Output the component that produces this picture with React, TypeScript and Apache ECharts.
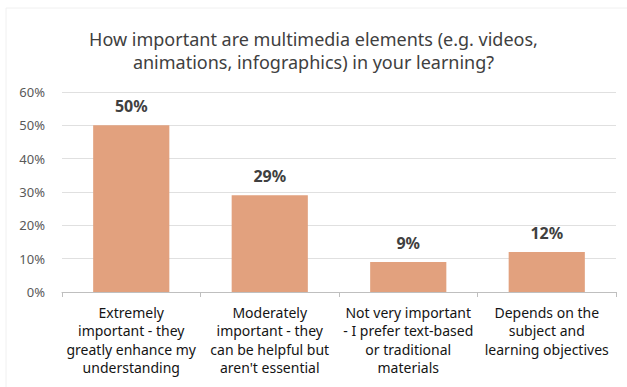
import React, { useEffect, useRef } from "react";
import * as echarts from "echarts";

const titleText = "How important are multimedia elements (e.g. videos,\nanimations, infographics) in your learning?";
const categories = [
  "Extremely\nimportant - they\ngreatly enhance my\nunderstanding",
  "Moderately\nimportant - they\ncan be helpful but\naren't essential",
  "Not very important\n- I prefer text-based\nor traditional\nmaterials",
  "Depends on the\nsubject and\nlearning objectives",
];
const values = [50, 29, 9, 12];
const yTicks = { min: 0, max: 60, interval: 10 };

const FONT = "'Noto Sans', sans-serif";

export default function App() {
  const ref = useRef<HTMLDivElement>(null);
  useEffect(() => {
    document.body.style.margin = "0";
    const chart = echarts.init(ref.current!, null, { renderer: "svg" });
    chart.setOption({
      animation: false,
      backgroundColor: "#ffffff",
      textStyle: { fontFamily: FONT },
      graphic: [
        {
          type: "rect",
          shape: { x: 6, y: 8, width: 640, height: 400 },
          style: { fill: "none", stroke: "#f0f0f0", lineWidth: 1 },
          silent: true,
        },
      ],
      title: {
        text: titleText,
        left: "center",
        top: 22,
        textStyle: {
          fontFamily: FONT,
          fontSize: 18,
          fontWeight: "normal",
          color: "#404040",
          lineHeight: 23,
        },
      },
      grid: { left: 62, right: 11, top: 92, bottom: 95 },
      xAxis: {
        type: "category",
        data: categories,
        axisLine: { lineStyle: { color: "#bfbfbf", width: 1 } },
        axisTick: { show: true, alignWithLabel: false, length: 5, lineStyle: { color: "#bfbfbf" } },
        axisLabel: {
          interval: 0,
          color: "#141414",
          fontFamily: FONT,
          fontSize: 14,
          lineHeight: 18.5,
          margin: 11,
        },
      },
      yAxis: {
        type: "value",
        min: yTicks.min,
        max: yTicks.max,
        interval: yTicks.interval,
        axisLine: { show: false },
        axisTick: { show: false },
        splitLine: { lineStyle: { color: "#e0e0e0", width: 1 } },
        axisLabel: {
          formatter: "{value}%",
          color: "#595959",
          fontFamily: FONT,
          fontSize: 13,
          margin: 17,
        },
      },
      series: [
        {
          type: "bar",
          data: values,
          barWidth: "55%",
          itemStyle: { color: "#e2a17e" },
          label: {
            show: true,
            position: "top",
            distance: 11,
            formatter: "{c}%",
            fontFamily: FONT,
            fontSize: 16,
            fontWeight: "bold",
            color: "#404040",
          },
        },
      ],
    });
    return () => chart.dispose();
  }, []);
  return <div ref={ref} style={{ width: 627, height: 387 }} />;
}
